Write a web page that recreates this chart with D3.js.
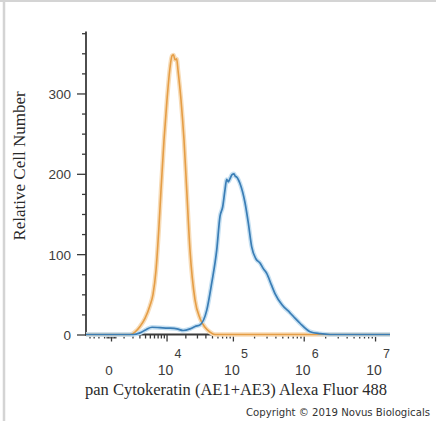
<!DOCTYPE html>
<html><head><meta charset="utf-8">
<script src="https://cdn.jsdelivr.net/npm/d3@7"></script>
<style>body{margin:0;background:#fff}svg{display:block}</style>
</head><body><svg id="c" width="436" height="421"></svg>
<script>
// ---- data ----
const yTicksMajor = [0, 100, 200, 300];
const yTicksMinor = [25, 50, 75, 125, 150, 175, 225, 250, 275, 325, 350, 375];
const xTicksMajor = [0, 1e4, 1e5, 1e6, 1e7];
const xTickExp = ["", "4", "5", "6", "7"];
const xTicksMinor = [-2000, -1500, -1000, -500, -300, -200, -100, 100, 200, 300,
  1000, 2000, 3000, 4000, 5000, 6000, 7000, 8000, 9000,
  2e4, 3e4, 4e4, 5e4, 6e4, 7e4, 8e4, 9e4,
  2e5, 3e5, 4e5, 5e5, 6e5, 7e5, 8e5, 9e5,
  2e6, 3e6, 4e6, 5e6, 6e6, 7e6, 8e6, 9e6];

// isotype control (orange)
const orangeX = [-2480, 0, 1692, 2338, 3096, 3990, 5036, 5754, 6542, 7406, 8036, 9058, 10174, 11412, 12314, 13016, 13770, 14646, 15362, 17128, 19080, 21000, 23560, 28060, 33320, 39480, 46760, 55280, 100000, 1e6, 1.62e7];
const orangeY = [0, 0, 0, 3, 10, 20, 36, 50, 80, 135, 180, 242, 292, 332, 347, 348, 342, 343, 329, 292, 242, 180, 105, 43, 20, 9, 3, 0, 0, 0, 0];

// pan Cytokeratin stained (blue)
const blueX = [-2480, 0, 2068, 3096, 4186, 5508, 7718, 10578, 14812, 18410, 23560, 28060, 33320, 41820, 49480, 58520, 65300, 71440, 77060, 81520, 86000, 90940, 97140, 103800, 108000, 113380, 126260, 148840, 165680, 185200, 213000, 242600, 270000, 301600, 350000, 394600, 495400, 641800, 760000, 886800, 1225000, 1692000, 2338000, 1.62e7];
const blueY = [0, 0, 0, 2, 6, 9, 8.5, 8, 7, 5, 7, 10, 12, 30, 64, 105, 147, 159, 180, 193, 190, 194, 199, 200, 197, 196, 188, 164, 139, 109, 94, 89, 82, 76, 62, 51, 37, 27, 20, 14, 3.5, 1, 0, 0];

const yTitle = "Relative Cell Number";
const xTitle = "pan Cytokeratin (AE1+AE3) Alexa Fluor 488";
const credit = "Copyright \u00A9 2019 Novus Biologicals";

// ---- drawing ----
const svg = d3.select("#c");
svg.append("rect").attr("width", 436).attr("height", 421).attr("fill", "#fff");
// frame lines
svg.append("line").attr("x1", 0).attr("x2", 436).attr("y1", 1).attr("y2", 1).attr("stroke", "#d4d4d4").attr("stroke-width", 2);
svg.append("line").attr("x1", 4).attr("x2", 4).attr("y1", 0).attr("y2", 421).attr("stroke", "#d4d4d4").attr("stroke-width", 2.5);

const x = d3.scaleSymlog().constant(2000).domain([-2480, 1.62e7]).range([86, 390]);
const y = d3.scaleLinear().domain([0, 377]).range([334.5, 31.6]);

const axisColor = "#3a3a3a";
function styleAxis(g) {
  g.select(".domain").remove();
  g.selectAll(".tick line").attr("stroke", axisColor).attr("stroke-width", 1.3);
}

// Y axis
svg.append("g").attr("transform", "translate(86,0)")
  .call(d3.axisLeft(y).tickValues(yTicksMinor).tickSize(4).tickFormat(""))
  .call(styleAxis);
const ya = svg.append("g").attr("transform", "translate(86,0)")
  .call(d3.axisLeft(y).tickValues(yTicksMajor).tickSize(9).tickPadding(6).tickFormat(d3.format("d")))
  .call(styleAxis);
ya.selectAll(".tick text").attr("font-family", "'Liberation Sans', Arial, sans-serif")
  .attr("font-size", 13.5).attr("fill", "#3c3c3c").attr("dy", "0.36em");

// X axis ticks
svg.append("g").attr("transform", "translate(0,334.5)")
  .call(d3.axisBottom(x).tickValues(xTicksMinor).tickSize(4).tickFormat(""))
  .call(styleAxis);
svg.append("g").attr("transform", "translate(0,334.5)")
  .call(d3.axisBottom(x).tickValues(xTicksMajor).tickSize(7).tickFormat(""))
  .call(styleAxis);

// axis lines
svg.append("line").attr("x1", 86).attr("x2", 86).attr("y1", y(377)).attr("y2", y(0) + 1)
  .attr("stroke", axisColor).attr("stroke-width", 1.8);
svg.append("line").attr("x1", 85).attr("x2", 390).attr("y1", y(0)).attr("y2", y(0))
  .attr("stroke", axisColor).attr("stroke-width", 1.8);

// X tick labels with superscripts
const xl = svg.append("g").attr("font-family", "'Liberation Sans', Arial, sans-serif").attr("fill", "#3c3c3c");
xTicksMajor.forEach((v, i) => {
  if (v === 0) {
    xl.append("text").attr("x", x(v) - 2).attr("y", 375).attr("text-anchor", "middle")
      .attr("font-size", 13.5).text("0");
  } else {
    xl.append("text").attr("x", x(v) - 1).attr("y", 375).attr("text-anchor", "middle")
      .attr("font-size", 14).text("10");
    xl.append("text").attr("x", x(v) + 8).attr("y", 358).attr("text-anchor", "start")
      .attr("font-size", 12.5).text(xTickExp[i]);
  }
});

// curves
const oData = orangeX.map((v, i) => [v, orangeY[i]]);
const bData = blueX.map((v, i) => [v, blueY[i]]);
const line = d3.line().x(d => x(d[0])).y(d => y(d[1])).curve(d3.curveMonotoneX);

svg.append("path").datum(oData).attr("d", line).attr("fill", "none")
  .attr("stroke", "#f7dcb8").attr("stroke-width", 4.5).attr("stroke-linejoin", "round");
svg.append("path").datum(bData).attr("d", line).attr("fill", "none")
  .attr("stroke", "#c6e0f2").attr("stroke-width", 4.5).attr("stroke-linejoin", "round");
svg.append("path").datum(oData).attr("d", line).attr("fill", "none")
  .attr("stroke", "#e59d45").attr("stroke-width", 1.6).attr("stroke-linejoin", "round");
svg.append("path").datum(bData).attr("d", line).attr("fill", "none")
  .attr("stroke", "#3a7db5").attr("stroke-width", 1.7).attr("stroke-linejoin", "round");

// titles
svg.append("text").attr("transform", "translate(25,166) rotate(-90)")
  .attr("text-anchor", "middle").attr("font-family", "'Liberation Serif', 'Times New Roman', serif")
  .attr("font-size", 17).attr("fill", "#2a2a2a").text(yTitle);
svg.append("text").attr("x", 236).attr("y", 395)
  .attr("text-anchor", "middle").attr("font-family", "'Liberation Serif', 'Times New Roman', serif")
  .attr("font-size", 16.5).attr("fill", "#2a2a2a").text(xTitle);
svg.append("text").attr("x", 246).attr("y", 415.5)
  .attr("font-family", "'DejaVu Sans', Verdana, sans-serif")
  .attr("font-size", 10).attr("fill", "#333")
  .attr("textLength", 184).attr("lengthAdjust", "spacingAndGlyphs").text(credit);
</script>
</body></html>
